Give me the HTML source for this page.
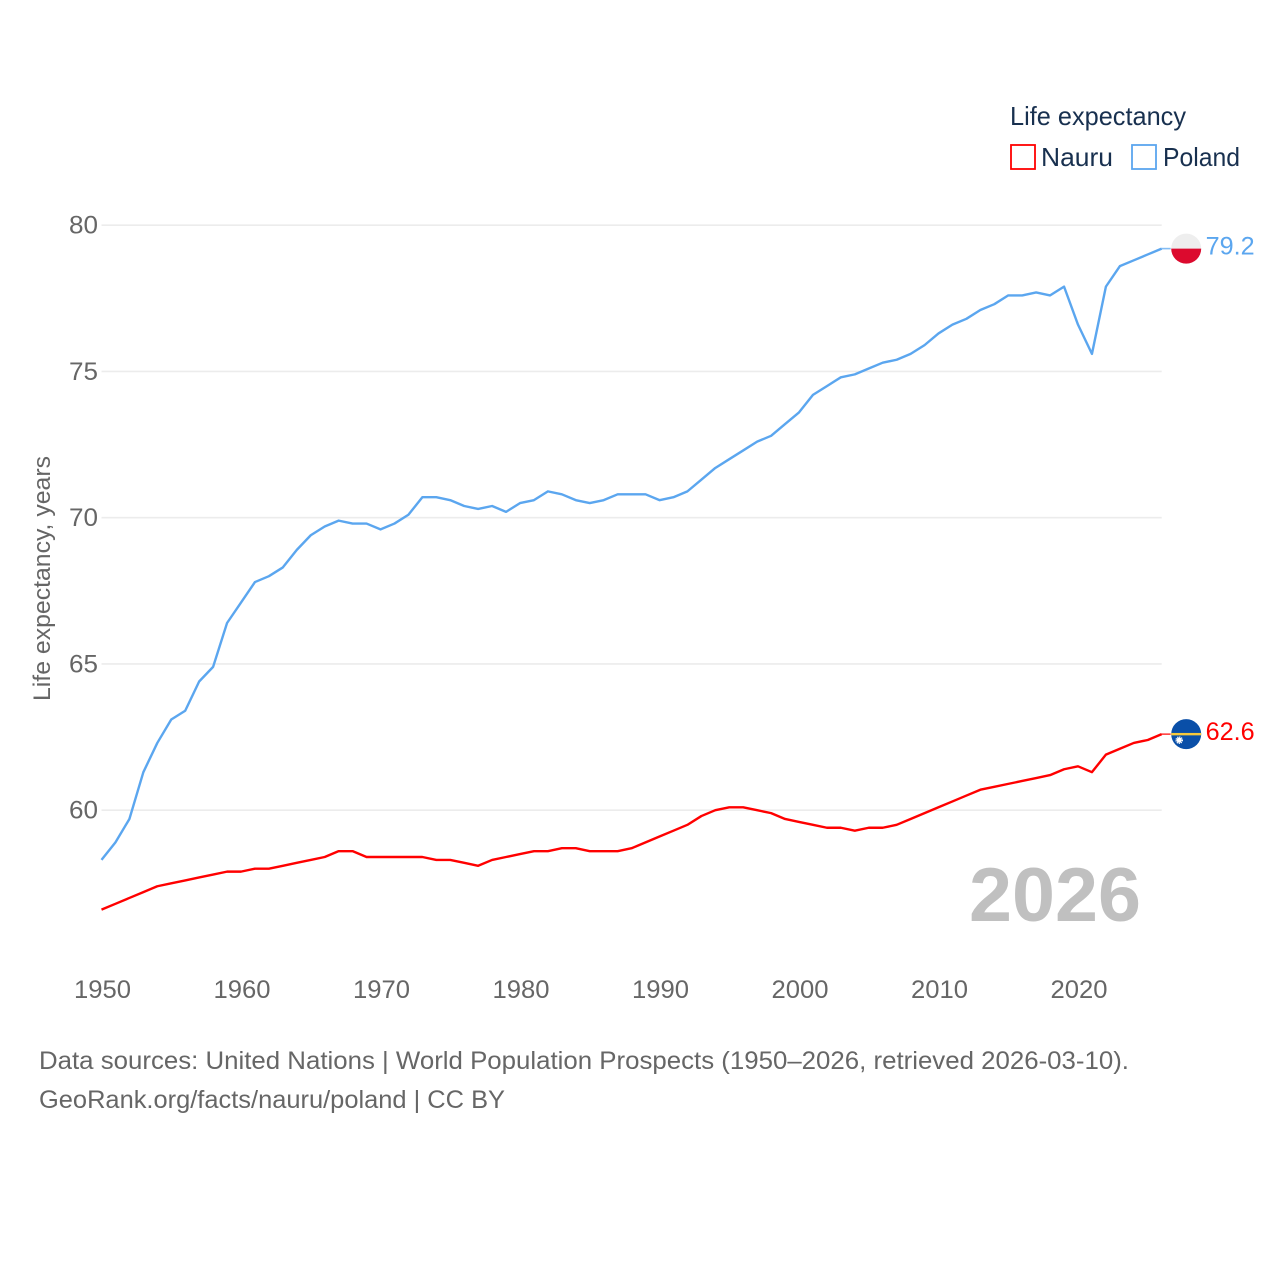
<!DOCTYPE html>
<html lang="en">
<head>
<meta charset="utf-8">
<title>Life expectancy: Nauru and Poland</title>
<style>
html,body{margin:0;padding:0;background:#fff;}
svg{display:block;font-family:"Liberation Sans",sans-serif;}
</style>
</head>
<body>
<svg id="chart" xmlns="http://www.w3.org/2000/svg" width="1280" height="1280" viewBox="0 0 1280 1280">
  <rect width="1280" height="1280" fill="#ffffff"/>
  <g id="grid"></g>
  <g id="yticks"></g>
  <g id="xticks"></g>
  <text transform="translate(50 701) rotate(-90)" font-size="24" fill="#666666" textLength="245" lengthAdjust="spacingAndGlyphs">Life expectancy, years</text>
  <text x="1141" y="921" text-anchor="end" font-size="76" font-weight="700" fill="#c0c0c0" textLength="172" lengthAdjust="spacingAndGlyphs">2026</text>
  <g id="series"></g>
  <g id="endmarks"></g>
  <g>
    <text x="1010" y="125" font-size="26" fill="#18304f" textLength="176" lengthAdjust="spacingAndGlyphs">Life expectancy</text>
    <g>
      <rect x="1011" y="145" width="24" height="24" fill="#ffffff" stroke="#ff0000" stroke-width="1.8"/>
      <text x="1041" y="166" font-size="26" fill="#18304f" textLength="72" lengthAdjust="spacingAndGlyphs">Nauru</text>
    </g>
    <g>
      <rect x="1132" y="145" width="24" height="24" fill="#ffffff" stroke="#5ba6ef" stroke-width="1.8"/>
      <text x="1163" y="166" font-size="26" fill="#18304f" textLength="77" lengthAdjust="spacingAndGlyphs">Poland</text>
    </g>
  </g>
  <g>
    <text x="39" y="1069" font-size="25" fill="#666666" textLength="1090" lengthAdjust="spacingAndGlyphs">Data sources: United Nations | World Population Prospects (1950–2026, retrieved 2026-03-10).</text>
    <text x="39" y="1108" font-size="25" fill="#666666" textLength="466" lengthAdjust="spacingAndGlyphs">GeoRank.org/facts/nauru/poland | CC BY</text>
  </g>
</svg>
<script>
const startYear = 1950;
const yTickValues = [60, 65, 70, 75, 80];
const xTickLabels = [1950, 1960, 1970, 1980, 1990, 2000, 2010, 2020];
const polandValues = [58.3,58.9,59.7,61.3,62.3,63.1,63.4,64.4,64.9,66.4,67.1,67.8,68.0,68.3,68.9,69.4,69.7,69.9,69.8,69.8,69.6,69.8,70.1,70.7,70.7,70.6,70.4,70.3,70.4,70.2,70.5,70.6,70.9,70.8,70.6,70.5,70.6,70.8,70.8,70.8,70.6,70.7,70.9,71.3,71.7,72.0,72.3,72.6,72.8,73.2,73.6,74.2,74.5,74.8,74.9,75.1,75.3,75.4,75.6,75.9,76.3,76.6,76.8,77.1,77.3,77.6,77.6,77.7,77.6,77.9,76.6,75.6,77.9,78.6,78.8,79.0,79.2];
const nauruValues = [56.6,56.8,57.0,57.2,57.4,57.5,57.6,57.7,57.8,57.9,57.9,58.0,58.0,58.1,58.2,58.3,58.4,58.6,58.6,58.4,58.4,58.4,58.4,58.4,58.3,58.3,58.2,58.1,58.3,58.4,58.5,58.6,58.6,58.7,58.7,58.6,58.6,58.6,58.7,58.9,59.1,59.3,59.5,59.8,60.0,60.1,60.1,60.0,59.9,59.7,59.6,59.5,59.4,59.4,59.3,59.4,59.4,59.5,59.7,59.9,60.1,60.3,60.5,60.7,60.8,60.9,61.0,61.1,61.2,61.4,61.5,61.3,61.9,62.1,62.3,62.4,62.6];

const NS = 'http://www.w3.org/2000/svg';
const xScale = function (year) { return 101.5 + (year - 1950) * 13.95; };
const yScale = function (value) { return 810.2 - (value - 60) * 29.25; };
const plotLeft = xScale(1950);
const plotRight = xScale(2026);

function make(tag, attrs, parent) {
  const el = document.createElementNS(NS, tag);
  Object.keys(attrs).forEach(function (k) { el.setAttribute(k, attrs[k]); });
  parent.appendChild(el);
  return el;
}

const grid = document.getElementById('grid');
const yticks = document.getElementById('yticks');
yTickValues.forEach(function (v) {
  const line = make('line', {x1: plotLeft, x2: plotRight, y1: yScale(v), y2: yScale(v), stroke: '#ececec', 'stroke-width': 1.6}, grid);
  
  
  const t = make('text', {x: 98, y: yScale(v) + 8.3, 'text-anchor': 'end', 'font-size': 25, fill: '#666666', textLength: 29, lengthAdjust: 'spacingAndGlyphs'}, yticks);
  
  
  t.textContent = String(v);
});

const xticks = document.getElementById('xticks');
xTickLabels.forEach(function (year) {
  const t = make('text', {x: xScale(year) + 1, y: 998, 'text-anchor': 'middle', 'font-size': 25, fill: '#666666', textLength: 57, lengthAdjust: 'spacingAndGlyphs'}, xticks);
  
  
  t.textContent = String(year);
});

const seriesGroup = document.getElementById('series');
function drawLine(values, color, name) {
  const d = values.map(function (v, i) {
    return (i ? 'L' : 'M') + xScale(startYear + i).toFixed(2) + ' ' + yScale(v).toFixed(2);
  }).join(' ');
  const p = make('path', {d: d, fill: 'none', stroke: color, 'stroke-width': 2.4, 'stroke-linejoin': 'round'}, seriesGroup);
  
  
}
drawLine(nauruValues, '#ff0000', 'line-nauru');
drawLine(polandValues, '#5ba6ef', 'line-poland');

const endmarks = document.getElementById('endmarks');
const flagX = plotRight + 24.5;
const lastYear = startYear + polandValues.length - 1;
const polandEnd = polandValues[polandValues.length - 1];
const nauruEnd = nauruValues[nauruValues.length - 1];

function stub(yv, color, name) {
  const s = make('line', {x1: xScale(lastYear), x2: xScale(lastYear) + 9, y1: yScale(yv), y2: yScale(yv), stroke: color, 'stroke-width': 1.6, opacity: 0.75}, endmarks);
  
  
}
function endLabel(yv, color, name) {
  const t = make('text', {x: flagX + 19.5, y: yScale(yv) + 5.8, 'font-size': 25, fill: color, textLength: 49, lengthAdjust: 'spacingAndGlyphs'}, endmarks);
  
  
  t.textContent = yv.toFixed(1);
}

stub(polandEnd, '#5ba6ef', 'end-connector-poland');
stub(nauruEnd, '#ff0000', 'end-connector-nauru');

const py = yScale(polandEnd);
const polandFlag = make('g', {}, endmarks);


make('circle', {cx: flagX, cy: py, r: 15, fill: '#eeeeee'}, polandFlag);
make('path', {d: 'M' + (flagX - 15) + ' ' + py + ' A15 15 0 0 0 ' + (flagX + 15) + ' ' + py + ' Z', fill: '#dc0a2e'}, polandFlag);

const ny = yScale(nauruEnd);
const nauruFlag = make('g', {}, endmarks);


make('circle', {cx: flagX, cy: ny, r: 15, fill: '#0a4fa8'}, nauruFlag);
make('rect', {x: flagX - 15, y: ny - 1.2, width: 30, height: 2.4, fill: '#f6c93c'}, nauruFlag);
make('circle', {cx: flagX - 7, cy: ny + 6, r: 2.6, fill: '#ffffff'}, nauruFlag);
make('circle', {cx: flagX - 7, cy: ny + 6, r: 3.2, fill: 'none', stroke: '#ffffff', 'stroke-width': 1.2, 'stroke-dasharray': '1.2 0.9'}, nauruFlag);

endLabel(polandEnd, '#5ba6ef', 'end-value-poland');
endLabel(nauruEnd, '#ff0000', 'end-value-nauru');
</script>
</body>
</html>
